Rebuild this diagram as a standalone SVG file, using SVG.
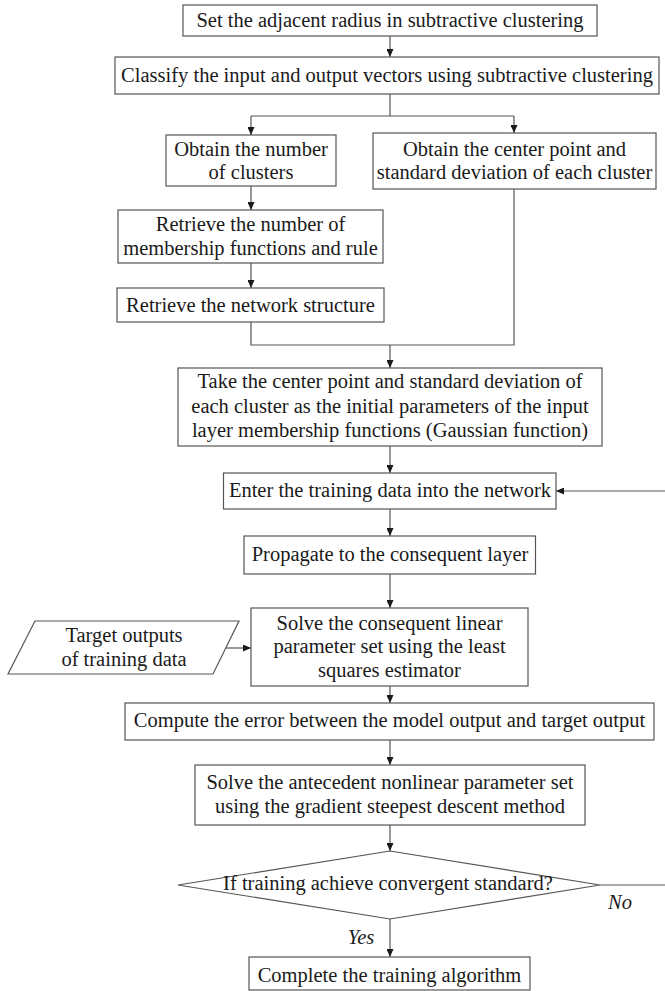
<svg xmlns="http://www.w3.org/2000/svg" width="665" height="991" viewBox="0 0 665 991">
<defs>
<marker id="arr" viewBox="0 0 8 7" refX="8" refY="3.5" markerWidth="8" markerHeight="7" orient="auto" markerUnits="userSpaceOnUse">
<path d="M0,0 L8,3.5 L0,7 Z" fill="#1a1a1a"/>
</marker>
<style>
.box{fill:#fff;stroke:#555;stroke-width:1.2}
.t{font-family:"Liberation Serif","Times New Roman",serif;font-size:20.5px;fill:#1a1a1a;text-anchor:middle}
.it{font-style:italic}
.c{fill:none;stroke:#555;stroke-width:1.2}
.a{marker-end:url(#arr)}
</style>
</defs>
<rect width="665" height="991" fill="#fff"/>
<g id="connectors">
<path class="c a" d="M390,36 V57"/>
<path class="c" d="M390,94 V116"/>
<path class="c" d="M251,116 H514"/>
<path class="c a" d="M251,116 V135"/>
<path class="c a" d="M514,116 V133"/>
<path class="c a" d="M251,186 V210"/>
<path class="c a" d="M251,263 V288"/>
<path class="c" d="M251,322 V345 H514 V189"/>
<path class="c a" d="M390,345 V368"/>
<path class="c a" d="M390,446 V473"/>
<path class="c a" d="M390,509 V536"/>
<path class="c a" d="M390,574 V608"/>
<path class="c a" d="M226,648 H251"/>
<path class="c a" d="M390,686 V703"/>
<path class="c a" d="M390,740 V765"/>
<path class="c a" d="M390,825 V851"/>
<path class="c a" d="M390,919 V957"/>
<path class="c a" d="M600,885 H668 V491 H556"/>
<text class="t it" x="620" y="909">No</text>
<text class="t it" x="361" y="944">Yes</text>
</g>
<g id="n1"><rect class="box" x="183" y="5" width="414" height="31"/><text class="t" x="390" y="27">Set the adjacent radius in subtractive clustering</text></g>
<g id="n2"><rect class="box" x="115" y="57" width="544" height="37"/><text class="t" x="387" y="82">Classify the input and output vectors using subtractive clustering</text></g>
<g id="n3"><rect class="box" x="166" y="135" width="170" height="51"/><text class="t" x="251" y="156">Obtain the number</text><text class="t" x="251" y="179">of clusters</text></g>
<g id="n4"><rect class="box" x="373" y="133" width="283" height="56"/><text class="t" x="514.5" y="156">Obtain the center point and</text><text class="t" x="514.5" y="179">standard deviation of each cluster</text></g>
<g id="n5"><rect class="box" x="118" y="210" width="265" height="53"/><text class="t" x="250.5" y="231">Retrieve the number of</text><text class="t" x="250.5" y="255">membership functions and rule</text></g>
<g id="n6"><rect class="box" x="117" y="288" width="267" height="34"/><text class="t" x="250.5" y="311.5">Retrieve the network structure</text></g>
<g id="n7"><rect class="box" x="178" y="368" width="424" height="78"/><text class="t" x="390" y="388">Take the center point and standard deviation of</text><text class="t" x="390" y="412.5">each cluster as the initial parameters of the input</text><text class="t" x="390" y="436.5">layer membership functions (Gaussian function)</text></g>
<g id="n8"><rect class="box" x="223.5" y="473" width="332.5" height="36"/><text class="t" x="390" y="496.5">Enter the training data into the network</text></g>
<g id="n9"><rect class="box" x="244" y="536" width="291.5" height="38"/><text class="t" x="390" y="560.5">Propagate to the consequent layer</text></g>
<g id="n10"><rect class="box" x="251" y="608" width="277" height="78"/><text class="t" x="389.5" y="630">Solve the consequent linear</text><text class="t" x="389.5" y="653">parameter set using the least</text><text class="t" x="389.5" y="676.5">squares estimator</text></g>
<g id="input"><polygon class="box" points="35,621 239,621 213,674 8,674"/><text class="t" x="124" y="641.5">Target outputs</text><text class="t" x="124" y="666">of training data</text></g>
<g id="n11"><rect class="box" x="125" y="703" width="529" height="37"/><text class="t" x="389.5" y="726.5">Compute the error between the model output and target output</text></g>
<g id="n12"><rect class="box" x="195" y="765" width="390" height="60"/><text class="t" x="390" y="788.5">Solve the antecedent nonlinear parameter set</text><text class="t" x="390" y="812.5">using the gradient steepest descent method</text></g>
<g id="decision"><polygon class="box" points="390,851 600,885 390,919 178,885"/><text class="t" x="388" y="890">If training achieve convergent standard?</text></g>
<g id="n13"><rect class="box" x="249" y="957" width="281" height="33"/><text class="t" x="389.5" y="981.5">Complete the training algorithm</text></g>
</svg>
